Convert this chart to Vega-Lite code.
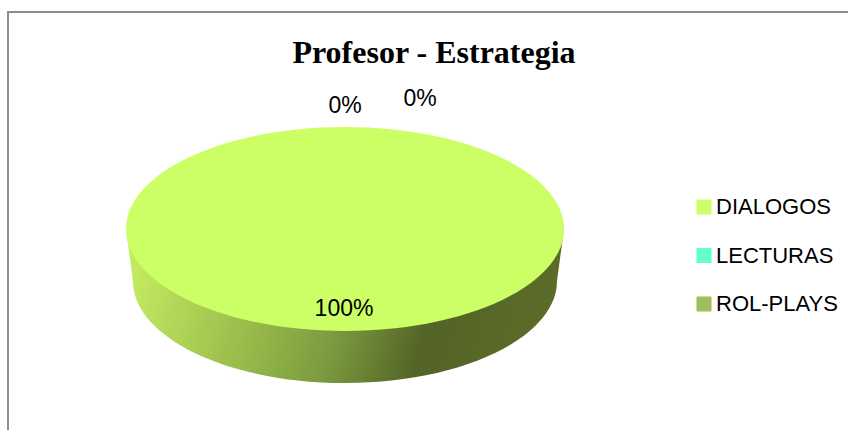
{
  "$schema": "https://vega.github.io/schema/vega-lite/v6.json",
  "autosize": "none",
  "width": 852,
  "height": 434,
  "padding": {"left": 8, "top": 12, "right": -12, "bottom": -16},
  "background": "white",
  "title": {"text": "Profesor - Estrategia", "font": "Liberation Serif", "fontSize": 32, "fontWeight": "bold", "color": "black", "anchor": "middle", "dy": 66},
  "config": {"view": {"stroke": null}},
  "data": {"values": [
    {"estrategia": "DIALOGOS", "porcentaje": 1},
    {"estrategia": "LECTURAS", "porcentaje": 0},
    {"estrategia": "ROL-PLAYS", "porcentaje": 0}
  ]},
  "layer": [
    {
      "transform": [{"filter": "datum.estrategia == 'DIALOGOS'"}],
      "mark": {
        "type": "point", "filled": false, "size": 4, "opacity": 1, "stroke": "#8c8c8c", "strokeWidth": 2,
        "shape": "M-426,300 L-426,-217 L500,-217"
      },
      "encoding": {}
    },
    {
      "transform": [{"filter": "datum.porcentaje > 0"}],
      "mark": {
        "type": "point", "filled": true, "size": 4, "opacity": 1,
        "shape": "M-308,0 L-301,52 A212,102 0 0,0 123,52 L130,0 Z",
        "fill": {"gradient": "linear", "x1": 0, "y1": 0.45, "x2": 1, "y2": 0.55, "stops": [
          {"offset": 0, "color": "#c4ea60"},
          {"offset": 0.3, "color": "#98bb4b"},
          {"offset": 0.5, "color": "#7a9a3e"},
          {"offset": 0.7, "color": "#546326"},
          {"offset": 1, "color": "#5c6d2a"}
        ]}
      },
      "encoding": {}
    },
    {
      "transform": [{"filter": "datum.porcentaje > 0"}],
      "mark": {
        "type": "point", "filled": true, "size": 4, "opacity": 1,
        "shape": "M-308,0 A219,102 0 1,1 130,0 A219,102 0 1,1 -308,0 Z"
      },
      "encoding": {
        "color": {
          "field": "estrategia", "type": "nominal",
          "scale": {"domain": ["DIALOGOS", "LECTURAS", "ROL-PLAYS"], "range": ["#ccff66", "#66ffcc", "#9fbd5a"]},
          "legend": {
            "title": null, "orient": "none", "legendX": 685, "legendY": 184,
            "symbolType": "square", "symbolSize": 225, "symbolStrokeWidth": 0, "symbolOpacity": 1,
            "labelFont": "Liberation Sans", "labelFontSize": 22, "labelColor": "black", "labelOffset": 1,
            "rowPadding": 26.5, "padding": 0, "labelLimit": 200
          }
        }
      }
    },
    {
      "transform": [{"filter": "datum.estrategia == 'DIALOGOS'"}],
      "mark": {"type": "text", "font": "Liberation Sans", "fontSize": 23, "color": "black", "dx": -90, "dy": 80},
      "encoding": {"text": {"field": "porcentaje", "type": "quantitative", "format": ".0%"}}
    },
    {
      "transform": [{"filter": "datum.estrategia == 'LECTURAS'"}],
      "mark": {"type": "text", "font": "Liberation Sans", "fontSize": 23, "color": "black", "dx": -89, "dy": -123},
      "encoding": {"text": {"field": "porcentaje", "type": "quantitative", "format": ".0%"}}
    },
    {
      "transform": [{"filter": "datum.estrategia == 'ROL-PLAYS'"}],
      "mark": {"type": "text", "font": "Liberation Sans", "fontSize": 23, "color": "black", "dx": -14, "dy": -130},
      "encoding": {"text": {"field": "porcentaje", "type": "quantitative", "format": ".0%"}}
    }
  ]
}
